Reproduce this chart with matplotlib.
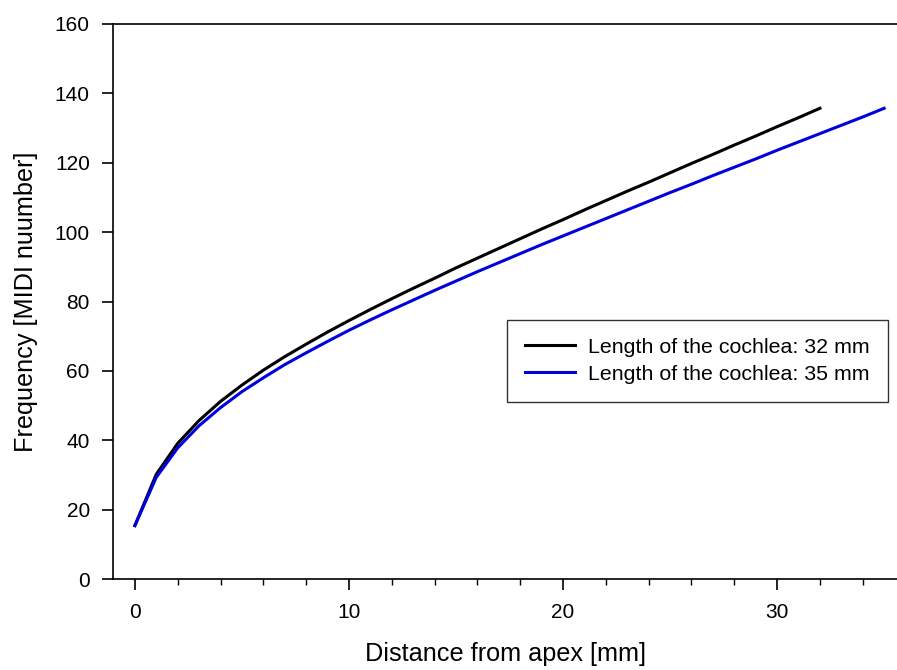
import matplotlib.pyplot as plt

plt.rcParams['font.family'] = ['Liberation Sans', 'DejaVu Sans']

# position along the cochlea, integer mm steps
dist_32 = list(range(0, 33))
dist_35 = list(range(0, 36))

# frequency as MIDI note number
midi_32 = [15.4, 30.2, 39.1, 45.7, 51.2, 55.9, 60.2, 64.1, 67.7, 71.2,
           74.5, 77.7, 80.8, 83.8, 86.7, 89.7, 92.5, 95.3, 98.1, 100.9,
           103.6, 106.4, 109.1, 111.8, 114.4, 117.1, 119.8, 122.4, 125.1,
           127.7, 130.4, 133.0, 135.7]
midi_35 = [15.4, 29.3, 37.8, 44.2, 49.4, 54.0, 58.0, 61.8, 65.2, 68.5,
           71.7, 74.7, 77.6, 80.4, 83.2, 85.9, 88.6, 91.2, 93.8, 96.4,
           98.9, 101.4, 103.9, 106.4, 108.9, 111.4, 113.8, 116.3, 118.7,
           121.1, 123.6, 126.0, 128.4, 130.8, 133.2, 135.7]

labels = ['Length of the cochlea: 32 mm', 'Length of the cochlea: 35 mm']

fig = plt.figure(figsize=(8.97, 6.70), dpi=100)
ax = fig.add_axes([0.1265, 0.1358, 0.8735, 0.8284])

ax.plot(dist_32, midi_32, color='black', lw=2.2, label=labels[0])
ax.plot(dist_35, midi_35, color='#0000dd', lw=2.2, label=labels[1])

ax.set_xlim(-1, 35.6)
ax.set_ylim(0, 160)
ax.set_xticks([0, 10, 20, 30])
ax.set_xticks(range(0, 36, 2), minor=True)
ax.set_yticks(range(0, 161, 20))

ax.spines['right'].set_visible(False)
for s in ax.spines.values():
    s.set_linewidth(1.2)

ax.tick_params(axis='both', which='major', direction='out', length=8,
               width=1.2, labelsize=15, pad=9)
ax.tick_params(axis='x', which='minor', direction='out', length=4, width=1.0)

ax.set_xlabel('Distance from apex [mm]', fontsize=18.2, labelpad=15)
ax.set_ylabel('Frequency [MIDI nuumber]', fontsize=18.2, labelpad=12)

leg = ax.legend(loc='center', bbox_to_anchor=(0.745, 0.393), fontsize=15.4,
                fancybox=False, framealpha=1, edgecolor='#333333',
                handlelength=2.35, handletextpad=0.6, borderpad=0.85,
                labelspacing=0.38)
leg.get_frame().set_linewidth(1.0)

fig.savefig('out.png', dpi=100)
